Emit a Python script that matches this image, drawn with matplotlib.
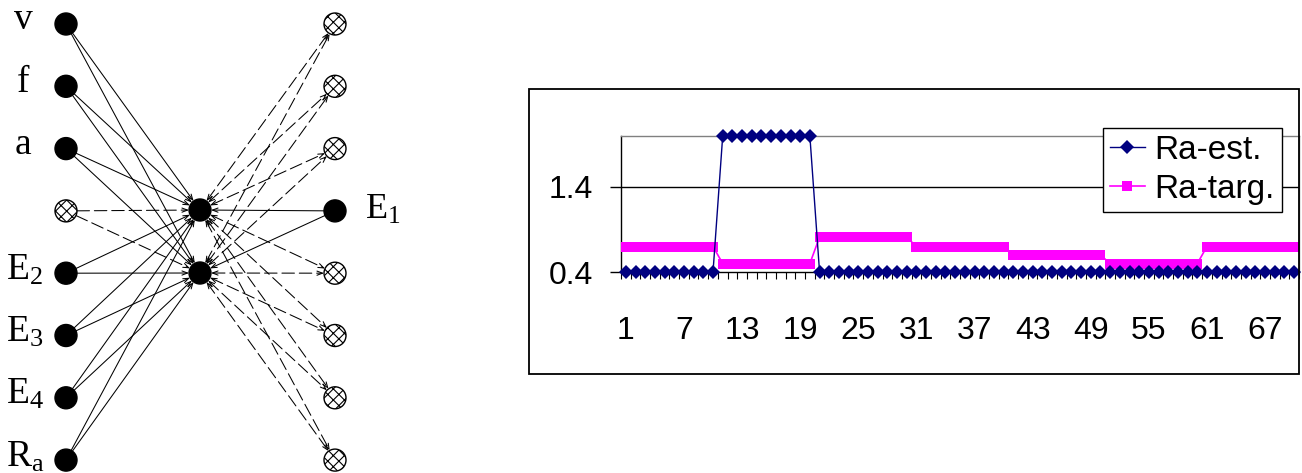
import matplotlib
matplotlib.use("Agg")
import matplotlib.pyplot as plt
from matplotlib.patches import Circle, FancyArrowPatch, Rectangle

plt.rcParams['font.family'] = ['Liberation Sans', 'DejaVu Sans']
plt.rcParams['mathtext.fontset'] = 'custom'
plt.rcParams['mathtext.rm'] = 'Liberation Serif'
plt.rcParams['mathtext.it'] = 'Liberation Serif'
plt.rcParams['lines.scale_dashes'] = False
plt.rcParams['hatch.linewidth'] = 0.8

# ---- network diagram data ----
left_labels = ['v', 'f', 'a', '', r'$\mathregular{E_2}$', r'$\mathregular{E_3}$',
               r'$\mathregular{E_4}$', r'$\mathregular{R_a}$']
left_hatched = [False, False, False, True, False, False, False, False]
right_hatched = [True, True, True, False, True, True, True, True]
right_labels = ['', '', '', r'$\mathregular{E_1}$', '', '', '', '']

# ---- chart data ----
points = list(range(1, 71))
ra_est = [0.4, 0.4, 0.4, 0.4, 0.4, 0.4, 0.4, 0.4, 0.4, 0.4,
          2.0, 2.0, 2.0, 2.0, 2.0, 2.0, 2.0, 2.0, 2.0, 2.0,
          0.4, 0.4, 0.4, 0.4, 0.4, 0.4, 0.4, 0.4, 0.4, 0.4,
          0.4, 0.4, 0.4, 0.4, 0.4, 0.4, 0.4, 0.4, 0.4, 0.4,
          0.4, 0.4, 0.4, 0.4, 0.4, 0.4, 0.4, 0.4, 0.4, 0.4,
          0.4, 0.4, 0.4, 0.4, 0.4, 0.4, 0.4, 0.4, 0.4, 0.4,
          0.4, 0.4, 0.4, 0.4, 0.4, 0.4, 0.4, 0.4, 0.4, 0.4]
ra_targ = [0.70, 0.70, 0.70, 0.70, 0.70, 0.70, 0.70, 0.70, 0.70, 0.70,
           0.50, 0.50, 0.50, 0.50, 0.50, 0.50, 0.50, 0.50, 0.50, 0.50,
           0.81, 0.81, 0.81, 0.81, 0.81, 0.81, 0.81, 0.81, 0.81, 0.81,
           0.70, 0.70, 0.70, 0.70, 0.70, 0.70, 0.70, 0.70, 0.70, 0.70,
           0.60, 0.60, 0.60, 0.60, 0.60, 0.60, 0.60, 0.60, 0.60, 0.60,
           0.50, 0.50, 0.50, 0.50, 0.50, 0.50, 0.50, 0.50, 0.50, 0.50,
           0.70, 0.70, 0.70, 0.70, 0.70, 0.70, 0.70, 0.70, 0.70, 0.70]
x_labels = [1, 7, 13, 19, 25, 31, 37, 43, 49, 55, 61, 67]
y_ticks = [0.4, 1.4]

W, H = 1302, 473
fig = plt.figure(figsize=(W / 100, H / 100), dpi=100)

# ================= left: network diagram (pixel coordinates) =================
ax0 = fig.add_axes([0, 0, 420 / W, 1])
ax0.set_xlim(0, 420)
ax0.set_ylim(H, 0)
ax0.axis('off')

x_in, x_hid, x_out = 66, 200, 335
row_y = [24 + 62.3 * i for i in range(8)]
hid_y = [210, 273]
r = 11
shrink = r * 0.72
head = ',head_length=0.4,head_width=0.15'


def link(p0, p1, dashed, style):
    ls = (0, (9, 3.5)) if dashed else '-'
    a = FancyArrowPatch(p0, p1, arrowstyle=style + head, mutation_scale=10,
                        shrinkA=shrink, shrinkB=shrink, lw=0.75,
                        linestyle=ls, color='black', zorder=1)
    ax0.add_patch(a)


for i, y in enumerate(row_y):
    for hy in hid_y:
        link((x_in, y), (x_hid, hy), left_hatched[i], '->')
        if right_hatched[i]:
            link((x_hid, hy), (x_out, y), True, '<->')
        else:
            link((x_hid, hy), (x_out, y), False, '<-')


def node(x, y, hatched):
    if hatched:
        c = Circle((x, y), r, facecolor='white', edgecolor='black', hatch='xxx', lw=1.0, zorder=3)
    else:
        c = Circle((x, y), r, facecolor='black', edgecolor='black', zorder=3)
    ax0.add_patch(c)


for i, y in enumerate(row_y):
    node(x_in, y, left_hatched[i])
    node(x_out, y, right_hatched[i])
for hy in hid_y:
    node(x_hid, hy, False)

for i, y in enumerate(row_y):
    lab = left_labels[i]
    if not lab:
        continue
    if lab.startswith('$'):
        ax0.text(6, y - 3, lab, ha='left', va='center', fontsize=27, family='Liberation Serif')
    else:
        ax0.text(23, y - 4, lab, ha='center', va='center', fontsize=27, family='Liberation Serif')
for i, y in enumerate(row_y):
    if right_labels[i]:
        ax0.text(365, y - 1, right_labels[i], ha='left', va='center', fontsize=26,
                 family='Liberation Serif')

# ================= right: line chart =================
fig.patches.append(Rectangle((529 / W, 1 - 374 / H), 770 / W, 285 / H,
                             transform=fig.transFigure, fill=False,
                             edgecolor='black', lw=1.3, zorder=0))

ax = fig.add_axes([621 / W, 1 - 272 / H, 678 / W, 136 / H])
ax.set_xlim(0.5, 70.5)
ax.set_ylim(0.4, 2.0)

ax.plot(points, ra_est, color='#000080', lw=1.0, marker='D', markersize=7,
        markeredgewidth=0, label='Ra-est.', clip_on=False, zorder=4)
ax.plot(points, ra_targ, color='#FF00FF', lw=1.2, marker='s', markersize=7.4,
        markeredgewidth=0, label='Ra-targ.', clip_on=False, zorder=3)

ax.axhline(1.4, color='black', lw=1.0, zorder=1)

for s in ['top', 'right']:
    ax.spines[s].set_color('#808080')
    ax.spines[s].set_linewidth(1.0)
ax.spines['left'].set_linewidth(1.0)
ax.spines['bottom'].set_linewidth(1.0)

ax.set_yticks(y_ticks)
ax.set_yticklabels([f'{v:.1f}' for v in y_ticks])
ax.tick_params(axis='y', length=8, width=1, pad=12, labelsize=23, direction='out')

ax.set_xticks(x_labels)
ax.set_xticklabels([str(v) for v in x_labels])
ax.tick_params(axis='x', which='major', length=0, pad=32, labelsize=23)
ax.set_xticks([p - 0.5 for p in points] + [70.5], minor=True)
ax.tick_params(axis='x', which='minor', length=5, width=0.8, direction='out')

leg = ax.legend(loc='upper left', bbox_to_anchor=(1103 / W, 1 - 128 / H),
                bbox_transform=fig.transFigure, borderaxespad=0, fontsize=24,
                frameon=True, fancybox=False, framealpha=1, edgecolor='black',
                handlelength=1.05, handletextpad=0.3, labelspacing=0.25,
                borderpad=0.2)
leg.get_frame().set_linewidth(1.0)

fig.savefig('out.png', dpi=100)
